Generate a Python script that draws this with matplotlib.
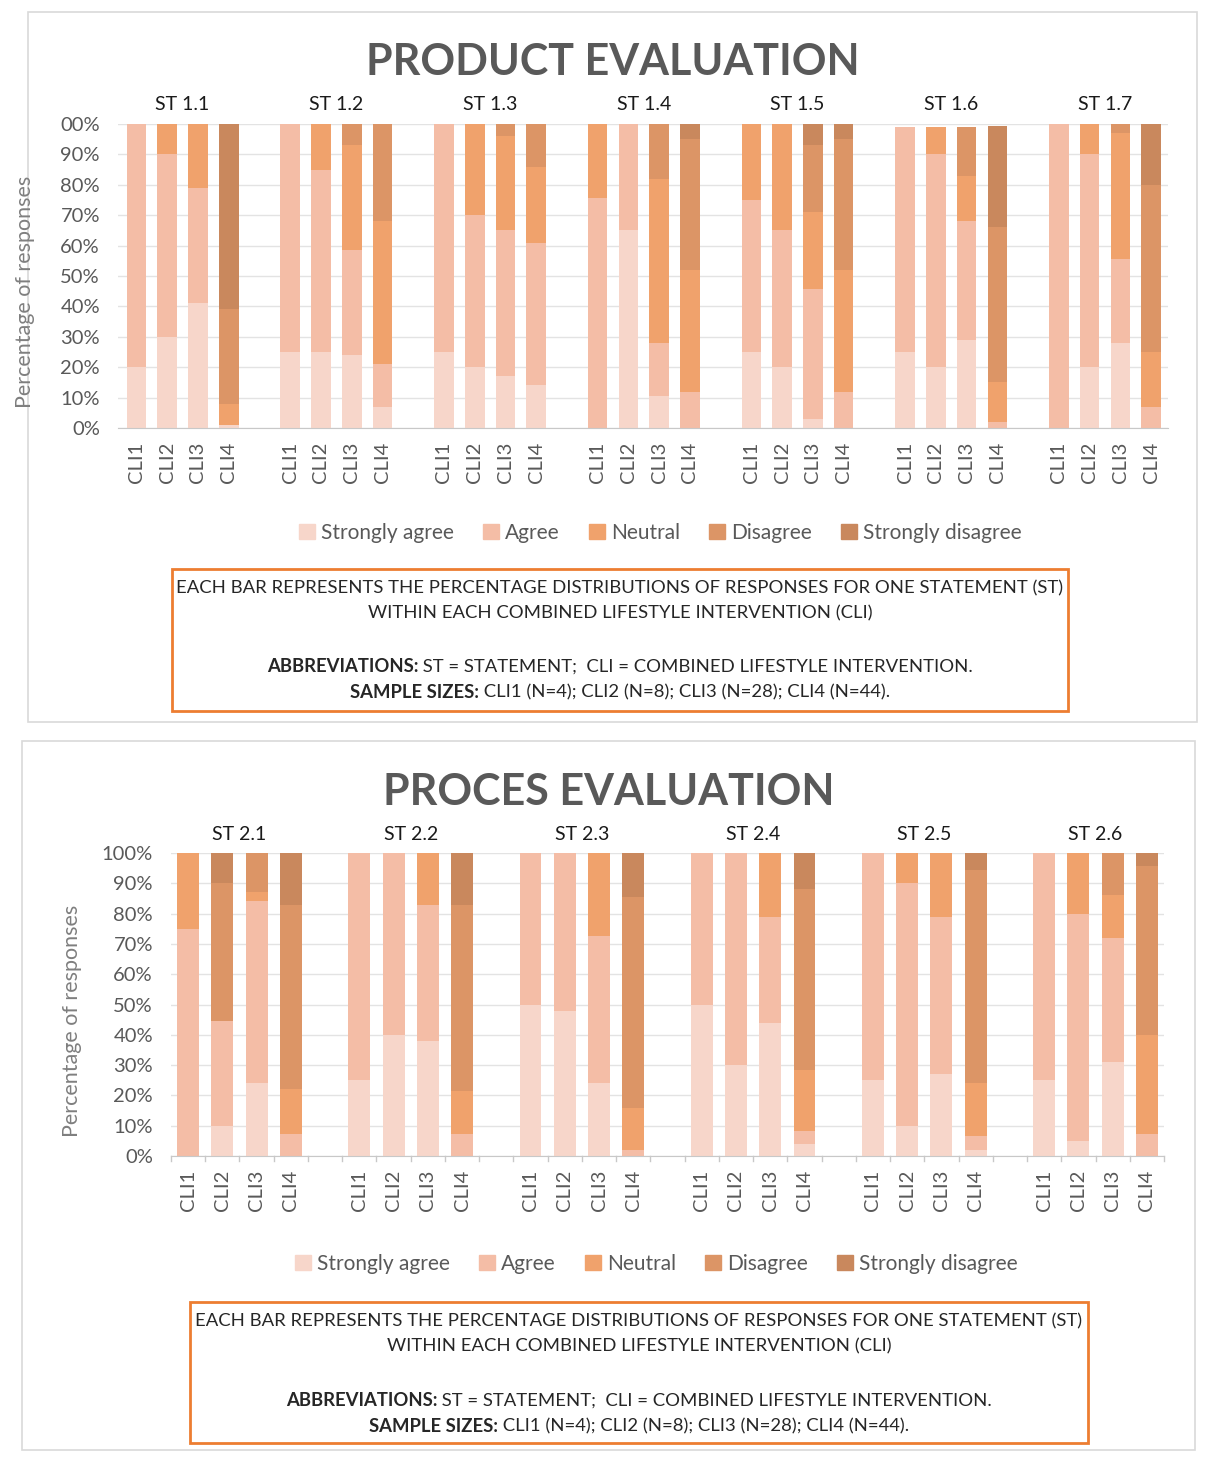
import matplotlib
matplotlib.use("Agg")
import matplotlib.pyplot as plt
from matplotlib.patches import Rectangle, Patch
import numpy as np

plt.rcParams['font.family'] = ['Lato', 'DejaVu Sans']

W, H = 1210, 1461

responses = ["Strongly agree", "Agree", "Neutral", "Disagree", "Strongly disagree"]
colors = ["#f7d6ca", "#f4bda6", "#f0a26c", "#dc9566", "#c9885d"]
cli_labels = ["CLI1", "CLI2", "CLI3", "CLI4"]

# product evaluation, 4 values (CLI1..CLI4) per statement
product_st = ["ST 1.1", "ST 1.2", "ST 1.3", "ST 1.4", "ST 1.5", "ST 1.6", "ST 1.7"]
p_sa = [20, 30, 41, 1,   25, 25, 24, 7,   25, 20, 17, 14,   0, 65, 10.5, 0,
        25, 20, 3, 0,    25, 20, 29, 0,   0, 20, 28, 0]
p_agree = [80, 60, 38, 0,   75, 60, 34.5, 14,   75, 50, 48, 47,   75.5, 35, 17.5, 12,
           50, 45, 42.6, 12,   74, 70, 39, 2,   100, 70, 27.5, 7]
p_neutral = [0, 10, 21, 7,   0, 15, 34.5, 47,   0, 30, 31, 25,   24.5, 0, 54, 40,
             25, 35, 25.4, 40,   0, 9, 15, 13,   0, 10, 41.5, 18]
p_disagree = [0, 0, 0, 31,   0, 0, 7, 32,   0, 0, 4, 14,   0, 0, 18, 43,
              0, 0, 22, 43,   0, 0, 16, 51,   0, 0, 3, 55]
p_sd = [0, 0, 0, 61,   0, 0, 0, 0,   0, 0, 0, 0,   0, 0, 0, 5,
        0, 0, 7, 5,   0, 0, 0, 33.5,   0, 0, 0, 20]

# process evaluation
process_st = ["ST 2.1", "ST 2.2", "ST 2.3", "ST 2.4", "ST 2.5", "ST 2.6"]
q_sa = [0, 10, 24, 0,   25, 40, 38, 0,   50, 48, 24, 0,   50, 30, 44, 4,
        25, 10, 27, 2,   25, 5, 31, 0]
q_agree = [75, 34.6, 60, 7.4,   75, 60, 45, 7.4,   50, 52, 48.6, 2,   50, 70, 35, 4.3,
           75, 80, 52, 4.5,   75, 75, 41, 7.4]
q_neutral = [25, 0, 3, 14.6,   0, 0, 17, 14.1,   0, 0, 27.4, 14,   0, 0, 21, 20.1,
             0, 10, 21, 17.5,   0, 20, 14, 32.6]
q_disagree = [0, 45.4, 13, 61,   0, 0, 0, 61.5,   0, 0, 0, 69.6,   0, 0, 0, 59.6,
              0, 0, 0, 70.5,   0, 0, 14, 55.6]
q_sd = [0, 10, 0, 17,   0, 0, 0, 17,   0, 0, 0, 14.4,   0, 0, 0, 12,
        0, 0, 0, 5.5,   0, 0, 0, 4.4]

note_line1 = "EACH BAR REPRESENTS THE PERCENTAGE DISTRIBUTIONS OF RESPONSES FOR ONE STATEMENT (ST)"
note_line2 = "WITHIN EACH COMBINED LIFESTYLE INTERVENTION (CLI)"
note_abbr = ("ABBREVIATIONS:", " ST = STATEMENT;  CLI = COMBINED LIFESTYLE INTERVENTION.")
note_size = ("SAMPLE SIZES:", " CLI1 (N=4); CLI2 (N=8); CLI3 (N=28); CLI4 (N=44).")

GRAY = "#595959"
NOTE_FS = 13.3

fig = plt.figure(figsize=(W / 100, H / 100), dpi=100)
renderer = fig.canvas.get_renderer()


def fx(x):
    return x / W


def fy(y):
    return 1 - y / H


def add_axes_px(x0, y0, x1, y1):
    return fig.add_axes([fx(x0), fy(y1), fx(x1) - fx(x0), (y1 - y0) / H])


def mixed_line(xc, y, bold, normal, size):
    tb = fig.text(0, fy(y), bold, fontsize=size, fontweight='bold', color="#262626", va='center')
    tn = fig.text(0, fy(y), normal, fontsize=size, color="#262626", va='center')
    wb = tb.get_window_extent(renderer).width
    wn = tn.get_window_extent(renderer).width
    left = xc - (wb + wn) / 2
    tb.set_x(fx(left))
    tn.set_x(fx(left + wb))


def draw_panel(box, title, title_y, ax_box, xlim, statements, series, st_y,
               ylab_x, top_label, ticks, legend_y, note_box, note_ys):
    bx0, by0, bx1, by1 = box
    fig.patches.append(Rectangle((fx(bx0), fy(by1)), fx(bx1) - fx(bx0), (by1 - by0) / H,
                                 transform=fig.transFigure, fill=False, ec="#d9d9d9", lw=1.2))
    fig.text(fx((bx0 + bx1) / 2), fy(title_y), title, fontsize=31, fontweight='bold',
             color=GRAY, ha='center', va='center')

    ax = add_axes_px(*ax_box)
    n = len(statements)
    pos = np.array([g * 5 + i for g in range(n) for i in range(4)])
    bottom = np.zeros(len(pos))
    for vals, col, lab in zip(series, colors, responses):
        vals = np.array(vals, dtype=float)
        ax.bar(pos, vals, 0.64, bottom=bottom, color=col, label=lab, zorder=2)
        bottom += vals
    ax.set_xlim(*xlim)
    ax.set_ylim(0, 100)
    ax.set_yticks(np.arange(0, 101, 10))
    ylabels = [f"{v}%" for v in range(0, 101, 10)]
    ylabels[-1] = top_label
    ax.set_yticklabels(ylabels, fontsize=14.5, color=GRAY)
    ax.set_xticks(pos)
    ax.set_xticklabels(cli_labels * n, rotation=90, fontsize=14.5, color=GRAY)
    ax.yaxis.grid(True, color="#e3e3e3", lw=1, zorder=0)
    for s in ["left", "right", "top"]:
        ax.spines[s].set_visible(False)
    ax.spines["bottom"].set_color("#c8c8c8")
    ax.tick_params(axis='y', length=0, pad=13)
    ax.tick_params(axis='x', length=0, pad=10)
    if ticks:
        bounds = np.arange(xlim[0], xlim[1] + 0.01, 1)
        for b in bounds:
            ax.plot([b, b], [0, -1.8], color="#c8c8c8", lw=1, clip_on=False)
    for g, st in enumerate(statements):
        xc = ax_box[0] + (g * 5 + 1.5 - xlim[0]) / (xlim[1] - xlim[0]) * (ax_box[2] - ax_box[0])
        fig.text(fx(xc), fy(st_y), st, fontsize=14, color="#1a1a1a", ha='center', va='center')
    fig.text(fx(ylab_x), fy((ax_box[1] + ax_box[3]) / 2 + 16), "Percentage of responses",
             rotation=90, fontsize=15.5, color="#7f7f7f", ha='center', va='center')

    handles = [Patch(color=c) for c in colors]
    fig.legend(handles, responses, loc='center', bbox_to_anchor=(fx((bx0 + bx1) / 2 + 48), fy(legend_y)),
               ncol=5, frameon=False, fontsize=15, labelcolor=GRAY, handlelength=0.75,
               handleheight=0.75, handletextpad=0.3, columnspacing=1.4)

    nx0, ny0, nx1, ny1 = note_box
    fig.patches.append(Rectangle((fx(nx0), fy(ny1)), fx(nx1) - fx(nx0), (ny1 - ny0) / H,
                                 transform=fig.transFigure, fill=False, ec="#ed7d31", lw=2))
    xc = (nx0 + nx1) / 2
    fig.text(fx(xc), fy(note_ys[0]), note_line1, fontsize=NOTE_FS, color="#262626", ha='center', va='center')
    fig.text(fx(xc), fy(note_ys[1]), note_line2, fontsize=NOTE_FS, color="#262626", ha='center', va='center')
    mixed_line(xc, note_ys[2], note_abbr[0], note_abbr[1], NOTE_FS)
    mixed_line(xc, note_ys[3], note_size[0], note_size[1], NOTE_FS)


draw_panel((28, 12, 1197, 722), "PRODUCT EVALUATION", 62, (118, 124, 1168, 428), (-0.6, 33.55),
           product_st, [p_sa, p_agree, p_neutral, p_disagree, p_sd], 104,
           25, "00%", False, 533, (172, 569, 1068, 711), (588, 613, 667, 692))

draw_panel((22, 741, 1195, 1450), "PROCES EVALUATION", 792, (171, 853, 1164, 1156), (-0.5, 28.5),
           process_st, [q_sa, q_agree, q_neutral, q_disagree, q_sd], 834,
           72, "100%", True, 1264, (190, 1302, 1088, 1443), (1321, 1346, 1401, 1426))

fig.savefig("out.png", dpi=100)
